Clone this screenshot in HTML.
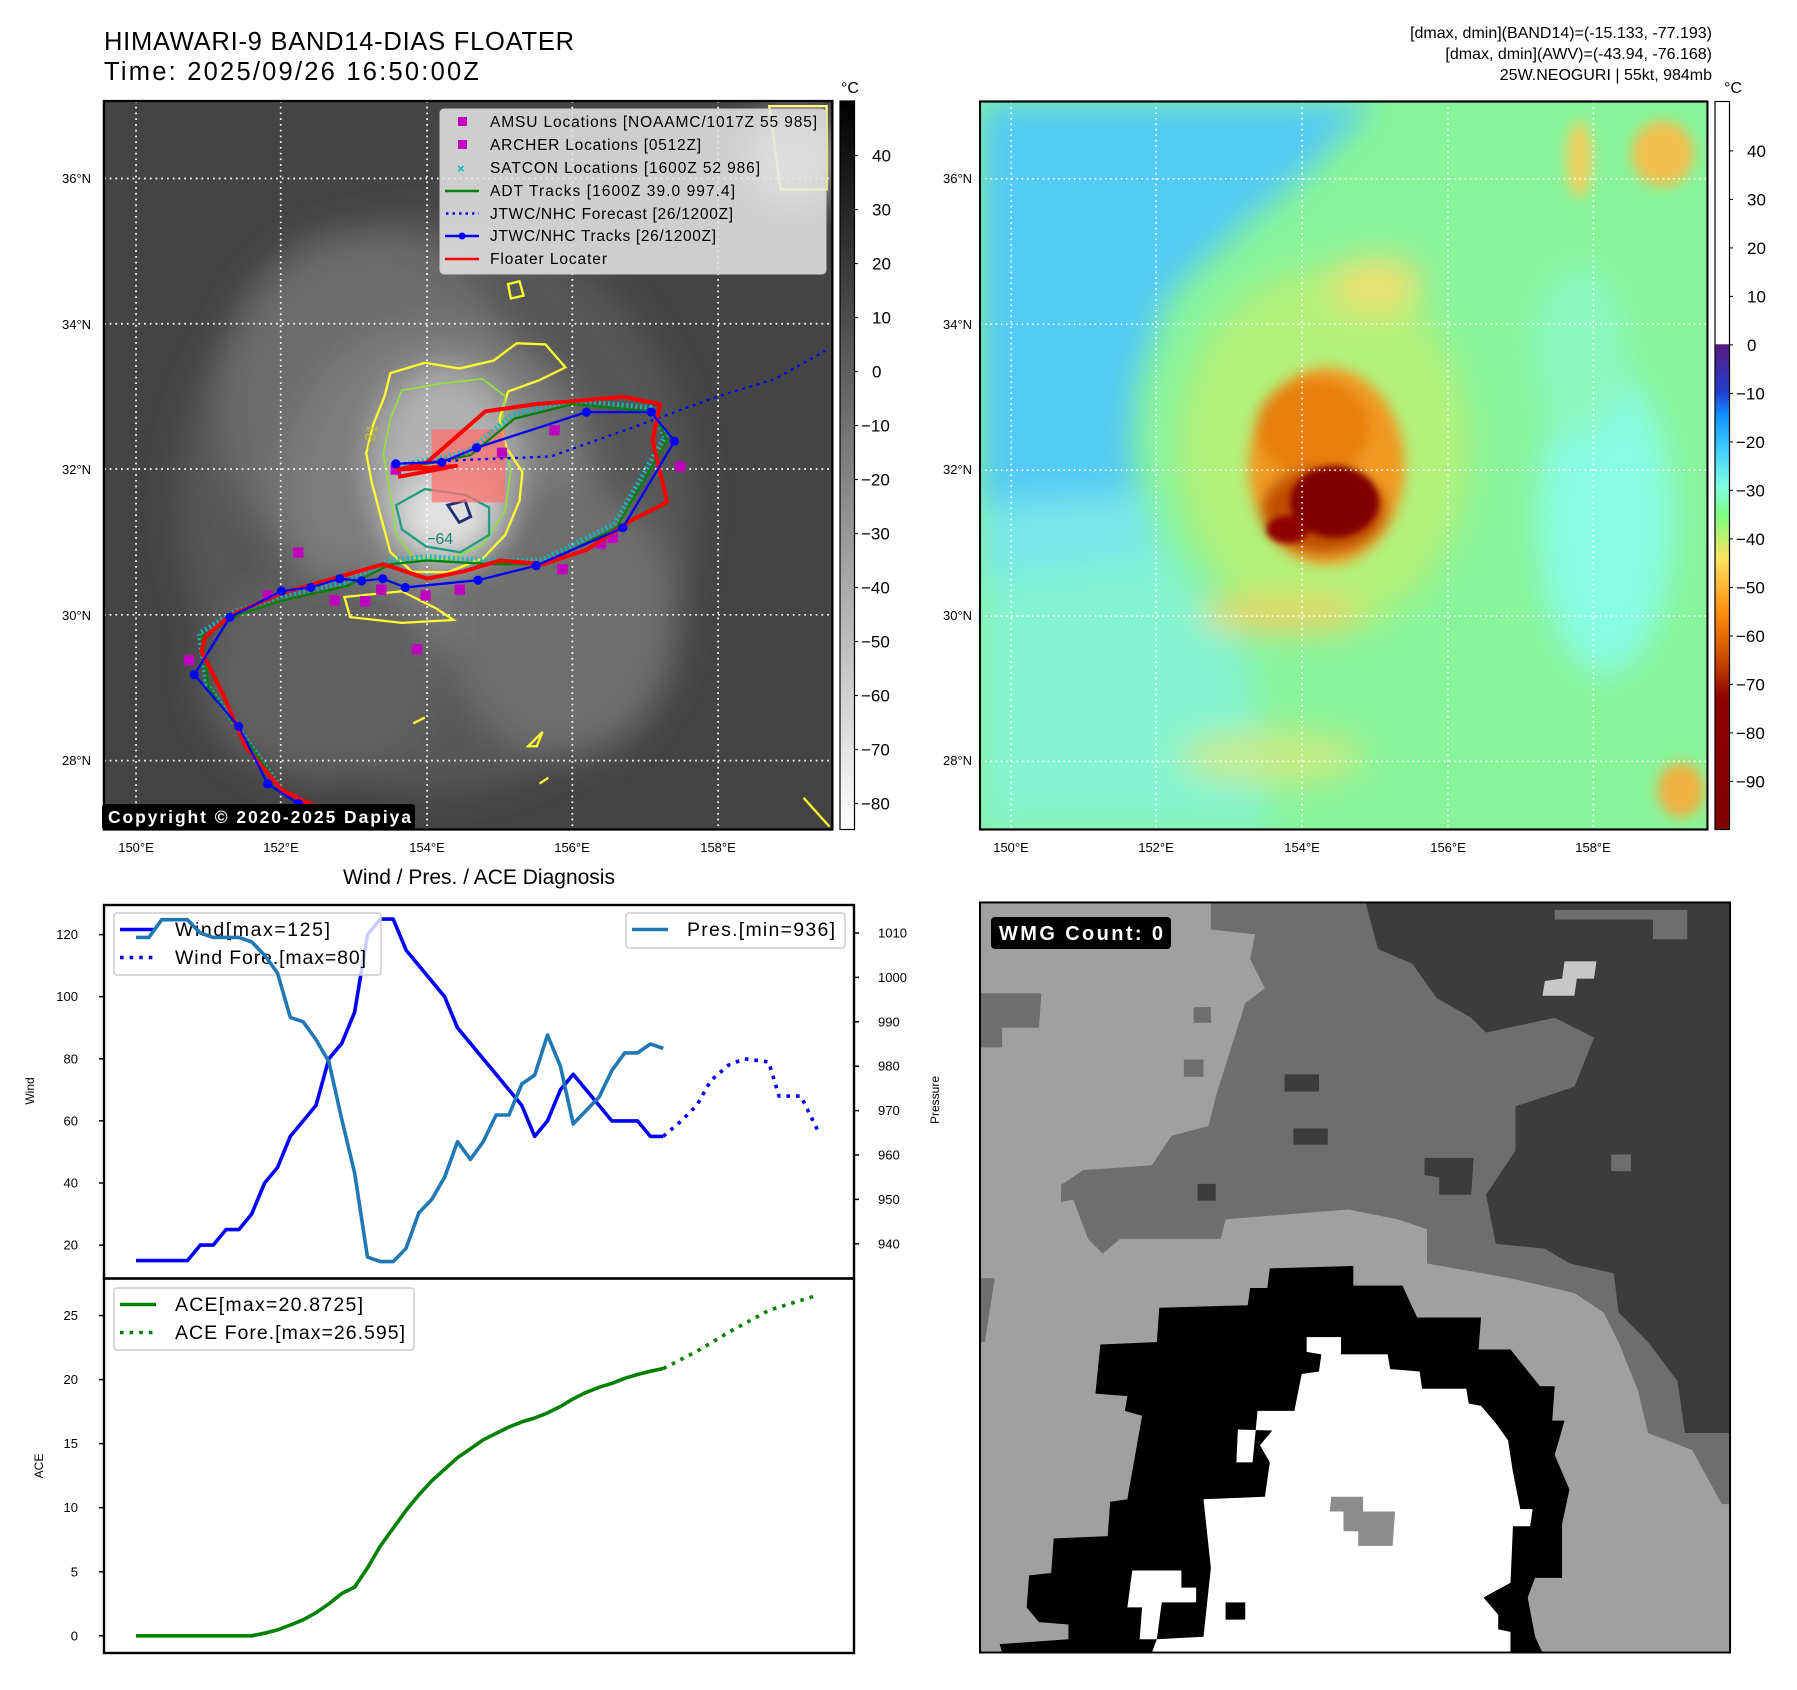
<!DOCTYPE html>
<html><head><meta charset="utf-8"><title>Dapiya diagnosis</title>
<style>
html,body{margin:0;padding:0;background:#fff;}
svg{display:block;font-family:"Liberation Sans","DejaVu Sans",sans-serif;}
</style></head>
<body>
<svg id="root" width="1797" height="1690" viewBox="0 0 1797 1690" xmlns="http://www.w3.org/2000/svg">
<defs>
  <filter id="blur30" x="-50%" y="-50%" width="200%" height="200%"><feGaussianBlur stdDeviation="30"/></filter>
  <filter id="blur18" x="-50%" y="-50%" width="200%" height="200%"><feGaussianBlur stdDeviation="18"/></filter>
  <filter id="blur12" x="-50%" y="-50%" width="200%" height="200%"><feGaussianBlur stdDeviation="12"/></filter>
  <filter id="blur6" x="-50%" y="-50%" width="200%" height="200%"><feGaussianBlur stdDeviation="6"/></filter>
  <clipPath id="clipL"><rect x="181" y="176" width="1269" height="1269"/></clipPath>
  <clipPath id="clipR"><rect x="0" y="185" width="1396" height="1327"/></clipPath>
  <clipPath id="clipB"><rect x="0" y="5" width="1527" height="1527"/></clipPath>
  <linearGradient id="cbGray" x1="0" y1="0" x2="0" y2="1"><stop offset="0" stop-color="#000"/><stop offset="1" stop-color="#fff"/></linearGradient>
  <linearGradient id="cbColor" x1="0" y1="0" x2="0" y2="1">
    <stop offset="0" stop-color="#fff"/><stop offset="0.333" stop-color="#fff"/>
    <stop offset="0.334" stop-color="#5a1a80"/><stop offset="0.40" stop-color="#2040d0"/>
    <stop offset="0.43" stop-color="#1090ff"/><stop offset="0.48" stop-color="#40d0ff"/>
    <stop offset="0.53" stop-color="#80ffe0"/><stop offset="0.57" stop-color="#80ff80"/>
    <stop offset="0.60" stop-color="#c0f070"/><stop offset="0.63" stop-color="#ffe060"/>
    <stop offset="0.70" stop-color="#ff9010"/><stop offset="0.76" stop-color="#d05000"/>
    <stop offset="0.82" stop-color="#900000"/><stop offset="1" stop-color="#800000"/>
  </linearGradient>
</defs>

<!-- Titles -->
<text x="104" y="50" font-size="25.5" textLength="470">HIMAWARI-9 BAND14-DIAS FLOATER</text>
<text x="104" y="80" font-size="25.5" textLength="375">Time: 2025/09/26 16:50:00Z</text>
<g font-size="16" text-anchor="end">
  <text x="1712" y="38">[dmax, dmin](BAND14)=(-15.133, -77.193)</text>
  <text x="1712" y="59">[dmax, dmin](AWV)=(-43.94, -76.168)</text>
  <text x="1712" y="80">25W.NEOGURI | 55kt, 984mb</text>
</g>

<!-- LEFT MAP (zoom1 coords scaled) -->
<g transform="scale(0.57405)">
  <g clip-path="url(#clipL)">
    <rect x="181" y="176" width="1269" height="1269" fill="#444"/>
    <g filter="url(#blur30)">
      <ellipse cx="760" cy="880" rx="450" ry="500" fill="#575757"/>
      <ellipse cx="640" cy="700" rx="260" ry="300" fill="#6c6c6c"/>
      <ellipse cx="760" cy="850" rx="270" ry="290" fill="#7c7c7c"/>
      <ellipse cx="980" cy="1080" rx="200" ry="240" fill="#6e6e6e"/>
      <ellipse cx="560" cy="1180" rx="210" ry="180" fill="#606060"/>
      <ellipse cx="775" cy="810" rx="130" ry="170" fill="#b0b0b0"/>
      <ellipse cx="775" cy="900" rx="85" ry="70" fill="#e2e2e2"/>
      <ellipse cx="1380" cy="280" rx="80" ry="80" fill="#aaa"/>
    </g>
    <!-- contours -->
    <path d="M680,650 L740,632 L800,642 L860,628 L900,598 L950,600 L985,640 L940,662 L885,682 L870,730 L882,780 L910,822 L905,872 L880,932 L842,972 L780,997 L718,996 L680,962 L664,902 L648,842 L638,790 L650,740 L670,690 Z" fill="none" stroke="#ffff30" stroke-width="4"/>
    <path d="M700,680 L770,668 L840,660 L880,690 L872,750 L890,820 L880,890 L840,950 L780,975 L720,972 L690,930 L680,860 L668,790 L680,730 Z" fill="none" stroke="#90e040" stroke-width="3"/>
    <path d="M690,880 L740,852 L810,862 L852,884 L852,932 L802,962 L742,952 L700,922 Z" fill="none" stroke="#20a080" stroke-width="4"/>
    <path d="M780,880 L810,872 L820,900 L800,910 Z" fill="none" stroke="#203070" stroke-width="5"/>
    <path d="M1340,185 L1440,185 L1440,330 L1360,330 Z" fill="none" stroke="#ffff80" stroke-width="4"/>
    <path d="M885,495 L905,490 L912,515 L890,520 Z" fill="none" stroke="#ffff30" stroke-width="4"/>
    <path d="M600,1040 L700,1030 L760,1060 L790,1080 L700,1085 L610,1075 Z" fill="none" stroke="#ffff30" stroke-width="4"/>
    <path d="M920,1300 L945,1275 L935,1300 Z M940,1365 L955,1355 M720,1260 L740,1250 M1400,1390 L1445,1440" fill="none" stroke="#ffff30" stroke-width="4"/>
    <text x="742" y="948" font-size="28" fill="#208070">−64</text>
    <text x="650" y="785" font-size="26" fill="#c0c020" transform="rotate(-80 650 785)">−31</text>
    <rect x="752" y="748" width="128" height="127" fill="#ff7070" opacity="0.75"/>
    <!-- grid -->
    <g stroke="#fff" stroke-width="3" stroke-dasharray="3 7">
      <line x1="237" y1="176" x2="237" y2="1445"/><line x1="489" y1="176" x2="489" y2="1445"/>
      <line x1="744" y1="176" x2="744" y2="1445"/><line x1="997" y1="176" x2="997" y2="1445"/>
      <line x1="1251" y1="176" x2="1251" y2="1445"/>
      <line x1="181" y1="311" x2="1450" y2="311"/><line x1="181" y1="564" x2="1450" y2="564"/>
      <line x1="181" y1="817" x2="1450" y2="817"/><line x1="181" y1="1071" x2="1450" y2="1071"/>
      <line x1="181" y1="1325" x2="1450" y2="1325"/>
    </g>
    <g id="tracks"></g>
  </g>
  <rect x="181" y="176" width="1269" height="1269" fill="none" stroke="#000" stroke-width="4"/>
</g>

<!-- legend -->
<g>
  <rect x="440" y="109" width="386" height="165" rx="4" fill="#e6e6e6" fill-opacity="0.85" stroke="#ccc"/>
  <g font-size="15.5">
    <rect x="458" y="117" width="9" height="9" fill="#bf00bf"/>
    <text x="490" y="127" textLength="327">AMSU Locations [NOAAMC/1017Z 55 985]</text>
    <rect x="458" y="140" width="9" height="9" fill="#bf00bf"/>
    <text x="490" y="150" textLength="211">ARCHER Locations [0512Z]</text>
    <text x="457" y="173" fill="#00bfbf" font-size="13" font-weight="bold">×</text>
    <text x="490" y="173" textLength="270">SATCON Locations [1600Z 52 986]</text>
    <line x1="445" y1="191" x2="479" y2="191" stroke="#008000" stroke-width="2.5"/>
    <text x="490" y="196" textLength="245">ADT Tracks [1600Z 39.0 997.4]</text>
    <line x1="446" y1="213.5" x2="479" y2="213.5" stroke="#0000ff" stroke-width="2.5" stroke-dasharray="2.5 4"/>
    <text x="490" y="219" textLength="243">JTWC/NHC Forecast [26/1200Z]</text>
    <line x1="445" y1="236" x2="479" y2="236" stroke="#0000ff" stroke-width="2.5"/><circle cx="462" cy="236" r="3.5" fill="#0000ff"/>
    <text x="490" y="241" textLength="226">JTWC/NHC Tracks [26/1200Z]</text>
    <line x1="445" y1="259" x2="479" y2="259" stroke="#ff0000" stroke-width="2.5"/>
    <text x="490" y="264" textLength="117">Floater Locater</text>
  </g>
</g>
<g>
  <rect x="102" y="804" width="313" height="26" rx="3" fill="#000"/>
  <text x="108" y="823" font-size="17.5" font-weight="bold" fill="#fff" textLength="303">Copyright © 2020-2025 Dapiya</text>
</g>
<g font-size="13">
  <text x="62" y="183">36°N</text><text x="62" y="329">34°N</text><text x="62" y="474">32°N</text><text x="62" y="620">30°N</text><text x="62" y="765">28°N</text>
  <g text-anchor="middle"><text x="136" y="852">150°E</text><text x="281" y="852">152°E</text><text x="427" y="852">154°E</text><text x="572" y="852">156°E</text><text x="718" y="852">158°E</text></g>
</g>
<!-- left colorbar -->
<g>
  <rect x="840" y="101" width="14.5" height="728.5" fill="url(#cbGray)" stroke="#000" stroke-width="1.2"/>
  <text x="850" y="93" font-size="16" text-anchor="middle">°C</text>
  <g font-size="17" id="cbLeft"></g>
</g>

<!-- RIGHT MAP (zoom4 coords) -->
<g transform="translate(980,0) scale(0.5211,0.5486)">
  <g clip-path="url(#clipR)">
    <rect x="0" y="185" width="1396" height="1327" fill="#88f49a"/>
    <g filter="url(#blur30)">
      <path d="M0,1000 L360,1000 L520,1200 L560,1512 L0,1512 Z" fill="#84f4d0"/>
      <path d="M0,185 L760,185 L620,320 L480,430 L360,540 L300,700 L290,820 L310,920 L0,960 Z" fill="#52caf4"/>
      <path d="M0,920 L320,900 L350,1020 L0,1060 Z" fill="#78e8e8"/>
      <ellipse cx="1200" cy="950" rx="130" ry="280" fill="#88fce4"/>
      <ellipse cx="1150" cy="640" rx="90" ry="160" fill="#8cf8c0"/>
      <ellipse cx="660" cy="820" rx="280" ry="330" fill="#c0f070" opacity="0.75"/>
      <ellipse cx="760" cy="520" rx="90" ry="50" fill="#f0e070"/>
      <ellipse cx="580" cy="1120" rx="160" ry="30" fill="#f0d060"/>
      <ellipse cx="560" cy="1380" rx="180" ry="50" fill="#e0e878" opacity="0.7"/>
    </g>
    <g filter="url(#blur12)">
      <ellipse cx="1310" cy="280" rx="60" ry="60" fill="#f0c050"/>
      <ellipse cx="1150" cy="290" rx="25" ry="70" fill="#f0d060"/>
      <ellipse cx="1345" cy="1440" rx="45" ry="50" fill="#f0b040"/>
      <ellipse cx="665" cy="850" rx="150" ry="180" fill="#f09a20"/>
      <ellipse cx="640" cy="780" rx="110" ry="90" fill="#e88010"/>
      <ellipse cx="660" cy="930" rx="120" ry="80" fill="#c05000"/>
    </g>
    <g filter="url(#blur6)">
      <ellipse cx="680" cy="915" rx="85" ry="65" fill="#800000"/>
      <ellipse cx="590" cy="965" rx="40" ry="25" fill="#900000"/>
    </g>
    <g stroke="#fff" stroke-width="3" stroke-dasharray="3 7">
      <line x1="60" y1="185" x2="60" y2="1512"/><line x1="338" y1="185" x2="338" y2="1512"/>
      <line x1="618" y1="185" x2="618" y2="1512"/><line x1="898" y1="185" x2="898" y2="1512"/>
      <line x1="1177" y1="185" x2="1177" y2="1512"/>
      <line x1="0" y1="326" x2="1396" y2="326"/><line x1="0" y1="591" x2="1396" y2="591"/>
      <line x1="0" y1="857" x2="1396" y2="857"/><line x1="0" y1="1123" x2="1396" y2="1123"/>
      <line x1="0" y1="1388" x2="1396" y2="1388"/>
    </g>
  </g>
  <rect x="0" y="185" width="1396" height="1327" fill="none" stroke="#000" stroke-width="4"/>
</g>
<g font-size="13">
  <text x="943" y="183">36°N</text><text x="943" y="329">34°N</text><text x="943" y="474">32°N</text><text x="943" y="620">30°N</text><text x="943" y="765">28°N</text>
  <g text-anchor="middle"><text x="1011" y="852">150°E</text><text x="1156" y="852">152°E</text><text x="1302" y="852">154°E</text><text x="1448" y="852">156°E</text><text x="1593" y="852">158°E</text></g>
</g>
<g>
  <rect x="1715" y="101.5" width="14.5" height="728" fill="url(#cbColor)" stroke="#000" stroke-width="1.2"/>
  <text x="1733" y="93" font-size="16" text-anchor="middle">°C</text>
  <g font-size="17" id="cbRight"></g>
</g>

<!-- Diagnosis chart -->
<text x="479" y="884" font-size="21" text-anchor="middle">Wind / Pres. / ACE Diagnosis</text>
<g id="chart"></g>

<!-- bottom-right WMG panel (zoom3 coords) -->
<g transform="translate(980,900) scale(0.4912)">
  <g clip-path="url(#clipB)">
    <rect x="0" y="5" width="1527" height="1527" fill="#a0a0a0"/>
    <path d="M470,5 L785,5 L810,100 L880,130 L930,200 L1000,240 L1030,270 L1170,240 L1250,280 L1210,380 L1090,420 L1090,510 L1030,600 L1050,700 L1150,710 L1200,740 L1290,760 L1300,840 L1360,900 L1420,980 L1435,1085 L1527,1085 L1527,1230 L1510,1230 L1450,1120 L1360,1085 L1340,1000 L1300,900 L1270,840 L1210,800 L1080,770 L910,740 L910,670 L850,650 L750,630 L500,650 L490,690 L285,690 L250,720 L220,690 L190,610 L165,615 L165,580 L210,550 L350,540 L390,480 L465,460 L480,400 L540,210 L580,180 L550,120 L560,70 L470,60 Z" fill="#6e6e6e"/>
    <path d="M0,190 L125,190 L120,260 L45,260 L45,300 L0,300 Z M0,770 L30,770 L10,900 L0,900 Z M435,218 L470,218 L470,250 L435,250 Z M415,325 L455,325 L455,360 L415,360 Z" fill="#6e6e6e"/>
    <path d="M785,5 L1527,5 L1527,1085 L1435,1085 L1420,980 L1360,900 L1300,840 L1290,760 L1200,740 L1150,710 L1050,700 L1030,600 L1090,510 L1090,420 L1210,380 L1250,280 L1170,240 L1030,270 L1000,240 L930,200 L880,130 L810,100 Z" fill="#3c3c3c"/>
    <path d="M1170,20 L1440,20 L1440,80 L1370,80 L1370,40 L1170,40 Z M1285,518 L1325,518 L1325,552 L1285,552 Z" fill="#6e6e6e"/>
    <path d="M1190,125 L1255,125 L1250,160 L1215,160 L1210,195 L1145,195 L1150,165 L1185,160 Z" fill="#c8c8c8"/>
    <path d="M620,355 L690,355 L690,390 L620,390 Z M638,465 L708,465 L708,498 L638,498 Z M443,578 L480,578 L480,612 L443,612 Z M905,525 L1005,525 L1000,600 L935,600 L935,565 L905,560 Z" fill="#3c3c3c"/>
    <path d="M590,750 L760,745 L760,785 L860,785 L890,850 L1020,850 L1015,915 L1080,915 L1140,990 L1170,990 L1165,1060 L1190,1060 L1170,1130 L1200,1200 L1185,1270 L1185,1380 L1130,1380 L1115,1420 L1130,1500 L1145,1532 L45,1532 L40,1515 L180,1505 L180,1475 L120,1470 L95,1440 L100,1375 L145,1370 L150,1300 L260,1295 L265,1225 L300,1220 L330,1050 L295,1040 L300,1010 L235,1005 L245,905 L360,900 L365,830 L545,825 L550,790 L585,790 Z" fill="#000"/>
    <path d="M665,890 L735,890 L735,925 L830,925 L835,955 L895,960 L900,995 L990,995 L995,1025 L1020,1030 L1050,1065 L1075,1100 L1085,1165 L1100,1240 L1125,1240 L1120,1275 L1085,1275 L1080,1390 L1025,1420 L1055,1455 L1055,1485 L1080,1490 L1080,1532 L350,1532 L360,1505 L455,1500 L470,1360 L455,1220 L580,1215 L590,1145 L570,1110 L595,1080 L525,1078 L522,1145 L555,1145 L565,1040 L640,1040 L655,965 L690,960 L695,925 L665,920 Z" fill="#fff"/>
    <path d="M310,1365 L410,1365 L410,1400 L440,1400 L440,1430 L370,1430 L360,1505 L325,1505 L330,1440 L300,1440 Z" fill="#fff"/>
    <path d="M715,1215 L780,1215 L780,1245 L845,1245 L840,1315 L770,1315 L770,1285 L740,1285 L740,1245 L712,1245 Z" fill="#8c8c8c"/>
    <rect x="500" y="1430" width="40" height="35" fill="#000"/>
  </g>
  <rect x="0" y="5" width="1527" height="1527" fill="none" stroke="#000" stroke-width="4"/>
</g>
<g>
  <rect x="991" y="917" width="180" height="32" rx="4" fill="#000"/>
  <text x="999" y="940" font-size="20" font-weight="bold" fill="#fff" textLength="164">WMG Count: 0</text>
</g>

<script>
// ---------- Diagnosis chart data ----------
const obsIdx = [0,1,2,3,4,5,6,7,8,9,10,11,12,13,14,15,16,17,18,19,20,21,22,23,24,25,26,27,28,29,30,31,32,33,34,35,36,37,38,39,40,41];
const windObs = [15,15,15,15,15,20,20,25,25,30,40,45,55,60,65,80,85,95,120,125,125,115,110,105,100,90,85,80,75,70,65,55,60,70,75,70,65,60,60,60,55,55];
const presObs = [1009,1009,1013,1013,1013,1010,1009,1009,1009,1008,1005,1001,991,990,986,981,968,956,937,936,936,939,947,950,955,963,959,963,969,969,976,978,987,980,967,970,973,979,983,983,985,984];
const aceObs = [0,0,0,0,0,0,0,0,0,0,0.2,0.46,0.84,1.25,1.8,2.5,3.3,3.8,5.3,7,8.4,9.8,11,12.1,13,13.9,14.6,15.3,15.8,16.3,16.7,17,17.4,17.9,18.5,19,19.4,19.7,20.1,20.4,20.65,20.87];
const foreIdx = [41,42.4,43.6,44.7,46.1,47.3,49.2,50,51.7,53];
const windFore = [55,60,65,73,78,80,79,68,68,57];
const aceForeIdx = [41,43.6,46.1,49.2,53];
const aceFore = [20.87,22.2,23.7,25.4,26.6];
const windTicks = [20,40,60,80,100,120];
const presTicks = [940,950,960,970,980,990,1000,1010];
const aceTicks = [0,5,10,15,20,25];
// map colorbar ticks
const cbLeftTicks = [40,30,20,10,0,-10,-20,-30,-40,-50,-60,-70,-80];
const cbRightTicks = [40,30,20,10,0,-10,-20,-30,-40,-50,-60,-70,-80,-90];
// map tracks (lon, lat)
const jtwcLon = [152.23,151.81,151.41,150.8,151.29,152.0,152.4,152.8,153.1,153.39,153.7,154.7,155.5,156.69,157.4,157.08,156.19,154.68,154.2,153.57];
const jtwcLat = [27.41,27.68,28.47,29.18,29.97,30.33,30.38,30.5,30.47,30.5,30.38,30.48,30.68,31.2,32.39,32.79,32.79,32.3,32.1,32.08];
const foreLon = [153.57,154.68,155.7,156.8,157.98,158.77,159.49];
const foreLat = [32.08,32.14,32.18,32.57,33.0,33.24,33.64];
const adtLon = [152.0,151.5,151.0,150.9,151.4,152.0,152.9,153.5,154.0,154.9,155.6,156.6,157.3,157.1,156.0,155.2,154.6,154.1,153.6];
const adtLat = [27.6,28.3,29.0,29.7,30.0,30.2,30.4,30.7,30.75,30.7,30.7,31.2,32.4,32.8,32.9,32.7,32.2,32.1,32.0];
const redLon = [152.8,152.0,151.5,151.2,150.9,150.95,151.3,152.0,152.7,153.4,154.0,154.5,155.0,155.6,156.2,156.8,157.3,157.1,157.2,156.7,155.5,154.8,154.0,153.6,154.4,153.6];
const redLat = [27.2,27.6,28.2,28.9,29.5,29.7,30.0,30.3,30.5,30.7,30.5,30.6,30.75,30.7,30.9,31.3,31.55,32.4,32.9,33.0,32.9,32.8,32.1,32.0,32.05,31.9];
const amsuLon = [155.03,155.75,157.48,152.23,151.81,153.15,153.98,153.86,150.73,154.45,156.39,156.55,155.86,153.57,153.37,152.73];
const amsuLat = [32.23,32.54,32.04,30.86,30.27,30.19,30.27,29.53,29.38,30.35,30.98,31.06,30.63,32.0,30.35,30.2];

const NS='http://www.w3.org/2000/svg';
function mk(tag, attrs, parent){const e=document.createElementNS(NS,tag);for(const k in attrs)e.setAttribute(k,attrs[k]);parent.appendChild(e);return e;}

// chart axes
const X0=136, XSTEP=12.86;
const xS = i => X0 + i*XSTEP;
const yWind = v => 934.6 + (120 - v)*3.105;
const yPres = p => 933 + (1010 - p)*4.44;
const yAce = a => 1635.8 - a*12.81;
const chart=document.getElementById('chart');
function poly(xs, ys, style, name){
  const pts = xs.map((x,k)=>x.toFixed(1)+','+ys[k].toFixed(1)).join(' ');
  const e = mk('polyline', Object.assign({points:pts, fill:'none','stroke-linejoin':'round'}, style), chart);
  
  
  return e;
}
// frames
const f1 = mk('rect',{x:104,y:905,width:750,height:373.5,fill:'none',stroke:'#000','stroke-width':2.4},chart);


const f2 = mk('rect',{x:104,y:1278.5,width:750,height:374.5,fill:'none',stroke:'#000','stroke-width':2.4},chart);


windTicks.forEach(v=>{const y=yWind(v);mk('line',{x1:99,y1:y,x2:104,y2:y,stroke:'#000','stroke-width':1.5},chart);
  const t=mk('text',{x:78,y:y+4.5,'font-size':13,'text-anchor':'end'},chart);t.textContent=v;
  
  });
presTicks.forEach(v=>{const y=yPres(v);mk('line',{x1:854,y1:y,x2:859,y2:y,stroke:'#000','stroke-width':1.5},chart);
  const t=mk('text',{x:878,y:y+4.5,'font-size':13},chart);t.textContent=v;
  
  });
aceTicks.forEach(v=>{const y=yAce(v);mk('line',{x1:99,y1:y,x2:104,y2:y,stroke:'#000','stroke-width':1.5},chart);
  const t=mk('text',{x:78,y:y+4.5,'font-size':13,'text-anchor':'end'},chart);t.textContent=v;
  
  });
[['Wind',34,1091],['Pressure',939,1100],['ACE',43,1466]].forEach(([s,x,y])=>{const t=mk('text',{x:x,y:y,'font-size':12,'text-anchor':'middle',transform:`rotate(-90 ${x} ${y})`},chart);t.textContent=s;
  
  });

// series
poly(obsIdx.map(xS), windObs.map(yWind), {stroke:'#0000ff','stroke-width':3.6}, 'wind-line');
poly(foreIdx.map(xS), windFore.map(yWind), {stroke:'#0000ff','stroke-width':3.6,'stroke-dasharray':'3.6 6'}, 'wind-forecast-line');
poly(obsIdx.map(xS), aceObs.map(yAce), {stroke:'#008000','stroke-width':3.6}, 'ace-line');
poly(aceForeIdx.map(xS), aceFore.map(yAce), {stroke:'#008000','stroke-width':3.6,'stroke-dasharray':'3.6 6'}, 'ace-forecast-line');

// legends
function legend(x,y,w,h,items,name){
  const g=mk('g',{},chart);
  
  
  mk('rect',{x:x,y:y,width:w,height:h,rx:3,fill:'#fff','fill-opacity':0.8,stroke:'#ccc','stroke-width':1.5},g);
  items.forEach((it,k)=>{const cy=y+16.5+k*28;
    mk('line',{x1:x+6,y1:cy,x2:x+42,y2:cy,stroke:it.c,'stroke-width':3.6,'stroke-dasharray':it.d||'none'},g);
    const t=mk('text',{x:x+61,y:cy+6.5,'font-size':19.5,textLength:it.w},g);t.textContent=it.t;});
}
legend(114,913,267,62,[{c:'#0000ff',t:'Wind[max=125]',w:155},{c:'#0000ff',t:'Wind Fore.[max=80]',w:191,d:'3.6 6'}],'wind-legend');
poly(obsIdx.map(xS), presObs.map(yPres), {stroke:'#1f77b4','stroke-width':3.6}, 'pressure-line');
legend(626,913,219,35,[{c:'#1f77b4',t:'Pres.[min=936]',w:148}],'pressure-legend');
legend(114,1288,300,62,[{c:'#008000',t:'ACE[max=20.8725]',w:188},{c:'#008000',t:'ACE Fore.[max=26.595]',w:230,d:'3.6 6'}],'ace-legend');

// colorbar ticks
const cbL=document.getElementById('cbLeft');
cbLeftTicks.forEach(v=>{const y=155.6+(40-v)*5.4;mk('line',{x1:854.5,y1:y,x2:858,y2:y,stroke:'#000'},cbL);
  const t=mk('text',{x:v<0?861:872,y:y+6},cbL);t.textContent=(v<0?'\u2212'+(-v):v);
  
  });
const cbR=document.getElementById('cbRight');
cbRightTicks.forEach(v=>{const y=150.9+(40-v)*4.85;mk('line',{x1:1729.5,y1:y,x2:1733,y2:y,stroke:'#000'},cbR);
  const t=mk('text',{x:v<0?1736:1747,y:y+6},cbR);t.textContent=(v<0?'\u2212'+(-v):v);
  
  });

// map tracks (zoom1 coordinates)
const mx = lon => 237 + (lon-150)*126.75;
const my = lat => 311 + (36-lat)*126.75;
const tr=document.getElementById('tracks');
function tpoly(lons,lats,style,name){
  const e=mk('polyline',Object.assign({points:lons.map((l,k)=>mx(l).toFixed(1)+','+my(lats[k]).toFixed(1)).join(' '),fill:'none','stroke-linejoin':'round'},style),tr);
  
  
}
amsuLon.forEach((l,k)=>{const r=mk('rect',{x:mx(l)-9,y:my(amsuLat[k])-9,width:18,height:18,fill:'#bf00bf'},tr);
  
  });
tpoly(adtLon.map(l=>l-0.03),adtLat.map(a=>a+0.05),{stroke:'#00c0c0','stroke-width':9,'stroke-dasharray':'3 5'},'satcon-markers');
tpoly(adtLon,adtLat,{stroke:'#008000','stroke-width':4},'adt-track');
tpoly(foreLon,foreLat,{stroke:'#0000ff','stroke-width':4,'stroke-dasharray':'5 8'},'jtwc-forecast-track');
tpoly(redLon,redLat,{stroke:'#ff0000','stroke-width':7},'floater-locater-track');
tpoly(jtwcLon,jtwcLat,{stroke:'#0000ff','stroke-width':4},'jtwc-track');
jtwcLon.forEach((l,k)=>{const c=mk('circle',{cx:mx(l),cy:my(jtwcLat[k]),r:8,fill:'#0000ff'},tr);
  
  });
</script>
</svg>
</body></html>
